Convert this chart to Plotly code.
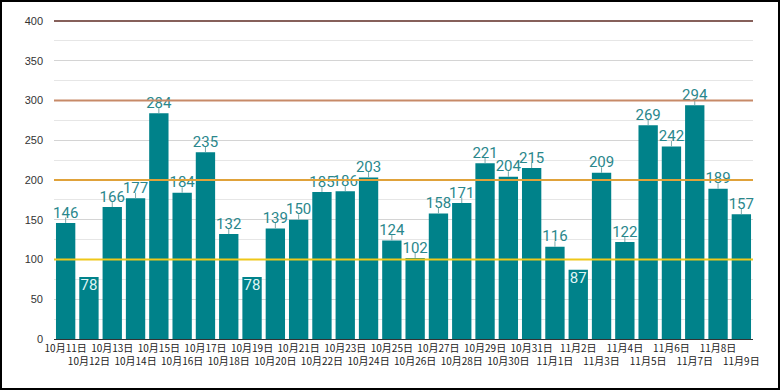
import plotly.graph_objects as go

dates = ["10月11日", "10月12日", "10月13日", "10月14日", "10月15日", "10月16日", "10月17日",
         "10月18日", "10月19日", "10月20日", "10月21日", "10月22日", "10月23日", "10月24日",
         "10月25日", "10月26日", "10月27日", "10月28日", "10月29日", "10月30日", "10月31日",
         "11月1日", "11月2日", "11月3日", "11月4日", "11月5日", "11月6日", "11月7日",
         "11月8日", "11月9日"]
values = [146, 78, 166, 177, 284, 184, 235, 132, 78, 139, 150, 185, 186, 203, 124, 102,
          158, 171, 221, 204, 215, 116, 87, 209, 122, 269, 242, 294, 189, 157]
ref_levels = [400, 300, 200, 100]
ref_colors = ["#86605a", "#c78a68", "#e0a23a", "#efc81a"]
y_ticks = [0, 50, 100, 150, 200, 250, 300, 350, 400]
Y_MAX = 400

W, H = 780, 390
ML, MR, MT, MB = 54, 27, 21, 51
PW, PH = W - ML - MR, H - MT - MB

tick_text = [d if i % 2 == 0 else "<br>" + d for i, d in enumerate(dates)]
inside = [v < 90 for v in values]

BAR = "#00828a"
LBL = "#2a878c"

fig = go.Figure()
fig.add_trace(go.Bar(
    x=dates, y=values, marker_color=BAR, marker_line_width=0,
    error_y=dict(type="data", symmetric=False,
                 array=[0 if ins else 7 for ins in inside],
                 arrayminus=[0] * len(values),
                 width=0, thickness=1, color="#7aa9ab"),
    hoverinfo="x+y", showlegend=False,
))
# labels above bars
fig.add_trace(go.Scatter(
    x=[d for d, ins in zip(dates, inside) if not ins],
    y=[v for v, ins in zip(values, inside) if not ins],
    mode="markers+text", marker=dict(size=1, color="rgba(0,0,0,0)"),
    text=[str(v) for v, ins in zip(values, inside) if not ins],
    textposition="top center",
    textfont=dict(family="Roboto", size=15, color=LBL),
    hoverinfo="skip", showlegend=False, cliponaxis=False,
))
# labels inside short bars
fig.add_trace(go.Scatter(
    x=[d for d, ins in zip(dates, inside) if ins],
    y=[v for v, ins in zip(values, inside) if ins],
    mode="markers+text", marker=dict(size=1, color="rgba(0,0,0,0)"),
    text=[str(v) for v, ins in zip(values, inside) if ins],
    textposition="bottom center",
    textfont=dict(family="Roboto", size=15, color="#dff4f4"),
    hoverinfo="skip", showlegend=False, cliponaxis=False,
))

shapes = []
for lv, c in zip(ref_levels, ref_colors):
    shapes.append(dict(type="line", xref="paper", yref="paper", x0=0, x1=1,
                       y0=lv / Y_MAX, y1=lv / Y_MAX,
                       line=dict(color=c, width=2), layer="above"))
# outer black frame
shapes.append(dict(type="rect", xref="paper", yref="paper",
                   x0=(1 - ML) / PW, x1=(W - 1 - ML) / PW,
                   y0=-(H - 1 - MT - PH) / PH, y1=1 + (MT - 1) / PH,
                   line=dict(color="#000000", width=2), layer="above"))

fig.update_layout(
    width=W, height=H, margin=dict(l=ML, r=MR, t=MT, b=MB, autoexpand=False),
    paper_bgcolor="white", plot_bgcolor="white",
    bargap=0.17, shapes=shapes,
    font=dict(family="Roboto, Noto Sans CJK JP", color="#333333"),
    xaxis=dict(tickmode="array", tickvals=dates, ticktext=tick_text,
               tickangle=0, range=[-0.5, len(dates) - 0.5], automargin=False,
               showline=True, linecolor="#333333", linewidth=1,
               showgrid=False, ticks="",
               tickfont=dict(family="Noto Sans CJK JP", size=10, color="#222222")),
    yaxis=dict(range=[0, Y_MAX], tickmode="array", tickvals=y_ticks, automargin=False,
               showgrid=True, gridcolor="#d4d4d4", gridwidth=1,
               minor=dict(dtick=25, tick0=0, showgrid=True, gridcolor="#e6e6e6", gridwidth=1),
               zeroline=False, ticks="", ticklabelstandoff=10,
               tickfont=dict(family="Liberation Sans, Arial", size=11, color="#333333")),
)

fig.write_html("out.html", config={"displayModeBar": False},
               post_script="document.body.style.margin='0';document.body.style.overflow='hidden';")
